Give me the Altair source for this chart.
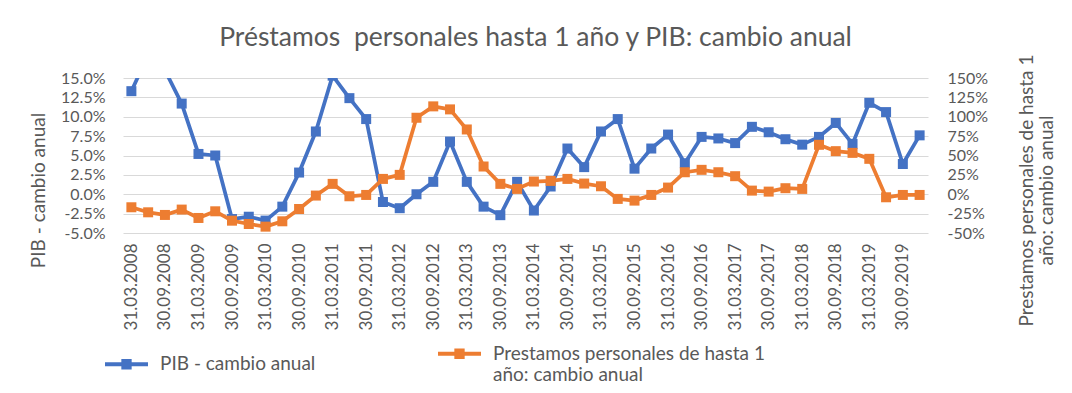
import altair as alt
import pandas as pd

trimestres = ["31.03", "30.06", "30.09", "31.12"]
anios = list(range(2008, 2020))
fechas = [f"{t}.{a}" for a in anios for t in trimestres]

pib = [13.3, 18.0, 16.0, 11.7, 5.2, 5.0, -3.2, -2.9, -3.4, -1.6,
       2.8, 8.1, 15.3, 12.4, 9.7, -1.0, -1.8, 0.0, 1.6, 6.8,
       1.6, -1.6, -2.7, 1.6, -2.1, 1.0, 5.9, 3.5, 8.1, 9.7,
       3.3, 5.9, 7.7, 4.0, 7.4, 7.2, 6.6, 8.7, 8.0, 7.1,
       6.4, 7.4, 9.2, 6.5, 11.8, 10.6, 3.9, 7.6]

prestamos = [-16.8, -23.3, -26.7, -19.8, -30.6, -22.0, -34.1, -38.4, -41.8, -34.9,
             -19.0, -1.7, 13.4, -2.6, -0.9, 19.8, 25.0, 98.7, 113.4, 109.5,
             83.6, 35.8, 13.4, 6.9, 16.4, 17.2, 19.8, 13.8, 10.3, -6.0,
             -8.2, -0.9, 8.6, 28.4, 31.5, 28.4, 23.3, 4.7, 3.4, 7.8,
             6.9, 63.8, 55.6, 53.4, 45.7, -3.9, -0.9, -0.9]

serie_pib = "PIB - cambio anual"
serie_prest = "Prestamos personales de hasta 1 año: cambio anual"
ticks_izq = [-0.05, -0.025, 0.0, 0.025, 0.05, 0.075, 0.10, 0.125, 0.15]
ticks_der = [-0.5, -0.25, 0.0, 0.25, 0.5, 0.75, 1.0, 1.25, 1.5]

df_pib = pd.DataFrame({"fecha": fechas, "serie": serie_pib, "valor": [v / 100 for v in pib]})
df_prest = pd.DataFrame({"fecha": fechas, "serie": serie_prest, "valor": [v / 100 for v in prestamos]})

GRIS = "#595959"
FONT = "Lato"

x_enc = alt.X(
    "fecha:O", sort=fechas,
    scale=alt.Scale(type="point", padding=0.5),
    axis=alt.Axis(values=fechas[::2], labelAngle=270, title=None, domain=False,
                  ticks=False, labelPadding=10, grid=False, labelFontSize=17),
)

color_enc = alt.Color(
    "serie:N",
    scale=alt.Scale(domain=[serie_pib, serie_prest], range=["#4472C4", "#ED7D31"]),
    legend=alt.Legend(
        orient="none", direction="horizontal", legendX=-18, legendY=254,
        title=None, labelLimit=500, labelFontSize=19, labelColor=GRIS, labelFont=FONT,
        labelOffset=12, columnPadding=122,
        symbolType="M-1,-0.09L1,-0.09L1,0.09L-1,0.09Z M-0.24,-0.24L0.24,-0.24L0.24,0.24L-0.24,0.24Z",
        symbolSize=1849, symbolStrokeWidth=0,
        labelExpr="datum.label == '" + serie_prest + "' ? ['Prestamos personales de hasta 1', 'año: cambio anual'] : datum.label",
    ),
)

y_izq = alt.Y(
    "valor:Q",
    scale=alt.Scale(domain=[-0.05, 0.15], nice=False, zero=False),
    axis=alt.Axis(
        orient="left", values=ticks_izq,
        labelExpr="replace(format(datum.value, '.1%'), '\u2212', '-')",
        grid=True, gridColor="#D9D9D9", gridWidth=1, domain=False, ticks=False,
        labelPadding=18, title=serie_pib, titleAngle=270, titleX=-85, titleY=112,
        titleAlign="center", titleBaseline="middle", titleFontSize=19,
        titleFontWeight="normal", titleColor=GRIS, titleFont=FONT,
    ),
)

y_der = alt.Y(
    "valor:Q",
    scale=alt.Scale(domain=[-0.5, 1.5], nice=False, zero=False),
    axis=alt.Axis(
        orient="right", values=ticks_der,
        labelExpr="replace(format(datum.value, '.0%'), '\u2212', '-')",
        grid=False, domain=False, ticks=False, labelPadding=19,
        title=["Prestamos personales de hasta 1", "año: cambio anual"],
        titleAngle=270, titleX=98, titleY=112, titleAlign="center",
        titleBaseline="middle", titleFontSize=19, titleLineHeight=20,
        titleFontWeight="normal", titleColor=GRIS, titleFont=FONT,
    ),
)

base_pib = alt.Chart(df_pib).encode(x=x_enc, y=y_izq, color=color_enc)
capa_pib = alt.layer(
    base_pib.mark_line(strokeWidth=3.75, strokeJoin="round", clip=True),
    base_pib.mark_point(shape="square", filled=True, size=100, opacity=1, clip=True),
)

base_prest = alt.Chart(df_prest).encode(x=x_enc, y=y_der, color=color_enc)
capa_prest = alt.layer(
    base_prest.mark_line(strokeWidth=3.75, strokeJoin="round", clip=True),
    base_prest.mark_point(shape="square", filled=True, size=100, opacity=1, clip=True),
)

chart = (
    alt.layer(capa_pib, capa_prest)
    .resolve_scale(y="independent")
    .properties(
        width=805, height=155,
        autosize=alt.AutoSizeParams(type="none"),
        padding={"left": 115, "top": 70, "right": 136, "bottom": 151},
        title=alt.Title(
            "Préstamos\u00a0 personales hasta 1 año y PIB: cambio anual",
            fontSize=26.5, font=FONT, fontWeight="normal", color=GRIS,
            anchor="middle", dx=10, dy=40, offset=22, baseline="alphabetic",
        ),
    )
    .configure_view(stroke=None)
    .configure_axis(labelFont=FONT, labelFontSize=16, labelColor=GRIS)
)

chart.save("out.html", embed_options={"renderer": "svg", "actions": False})
